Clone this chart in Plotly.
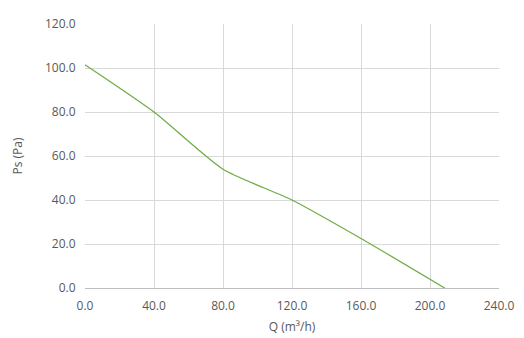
import plotly.graph_objects as go

q_values = [0, 40, 80, 120, 160, 208.5]
ps_values = [101.5, 80.0, 54.0, 40.0, 22.5, 0.0]
x_ticks = [0, 40, 80, 120, 160, 200, 240]
y_ticks = [0, 20, 40, 60, 80, 100, 120]

fig = go.Figure()
fig.add_trace(go.Scatter(x=q_values, y=ps_values, mode="lines",
                         line=dict(color="#70AD47", width=1.3, shape="spline", smoothing=0.6),
                         showlegend=False))

font = dict(family="Open Sans, sans-serif", size=12, color="#595959")
fig.update_layout(
    width=524, height=338,
    margin=dict(l=85, r=25, t=24, b=50),
    paper_bgcolor="white", plot_bgcolor="white",
    font=font,
    xaxis=dict(range=[0, 240], tickvals=x_ticks, ticktext=[f"{v:.1f}" for v in x_ticks],
               showgrid=True, gridcolor="#D9D9D9", gridwidth=1,
               showline=True, linecolor="#BFBFBF", linewidth=1, zeroline=False,
               ticks="outside", ticklen=7, tickcolor="rgba(0,0,0,0)", automargin=False,
               title=dict(text="Q (m³/h)", standoff=9, font=font)),
    yaxis=dict(range=[0, 120], tickvals=y_ticks, ticktext=[f"{v:.1f}" for v in y_ticks],
               showgrid=True, gridcolor="#D9D9D9", gridwidth=1,
               showline=False, zeroline=False, automargin=False,
               ticks="outside", ticklen=6, tickcolor="rgba(0,0,0,0)",
               title=dict(text="Ps (Pa)", standoff=19, font=font)),
)
fig.write_html("out.html")
